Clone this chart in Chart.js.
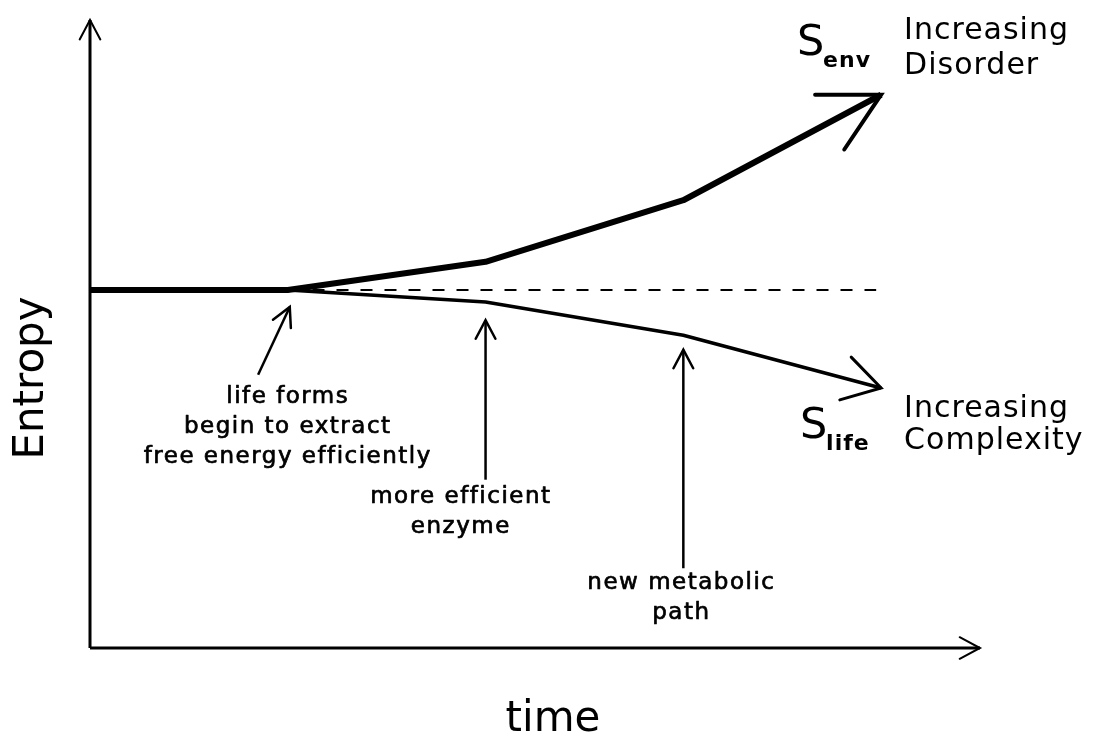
<!DOCTYPE html>
<html>
<head>
<meta charset="utf-8">
<title>Entropy vs time</title>
<script src="https://cdn.jsdelivr.net/npm/chart.js@4.4.1/dist/chart.umd.min.js"></script>
<style>
  html, body { margin: 0; padding: 0; background: #fff; }
  #wrap { width: 1100px; height: 750px; }
</style>
</head>
<body>
<div id="wrap"><canvas id="entropyChart"></canvas></div>
<script>
// time steps (x) and entropy values (y), both in arbitrary units
const timeSteps = [0, 2, 4, 6, 8];
const envEntropy = [5.70, 5.70, 6.15, 7.13, 8.81];
const lifeTimes = [2, 4, 6, 8];
const lifeEntropy = [5.70, 5.51, 4.98, 4.14];
const baseline = 5.70;
const baselineSpan = [2.25, 7.95];

// pointer arrows: [tailX, tailY, tipX, tipY]
const pointerArrows = [
  [1.70, 4.35, 2.02, 5.43],
  [4.00, 2.68, 4.00, 5.22],
  [6.00, 1.27, 6.00, 4.75]
];
const pointerLabels = [
  { x: 2.0, y: 4.0, lines: ['life forms', 'begin to extract', 'free energy efficiently'] },
  { x: 3.75, y: 2.41, lines: ['more efficient', 'enzyme'] },
  { x: 5.98, y: 1.03, lines: ['new metabolic', 'path'] }
];

const xRange = [0, 9];
const yRange = [0, 10];

const FONT = '"DejaVu Sans", sans-serif';

function pts(xs, ys) {
  return xs.map((x, i) => ({ x: x, y: ys[i] }));
}

const datasets = [
  // axes
  { data: [{ x: xRange[0], y: yRange[0] }, { x: xRange[1], y: yRange[0] }], borderWidth: 3, arrow: { len: 23, ang: 28, width: 2 } },
  { data: [{ x: xRange[0], y: yRange[0] }, { x: xRange[0], y: yRange[1] }], borderWidth: 3, arrow: { len: 22, ang: 28, width: 2 } },
  // dashed reference level
  { data: [{ x: baselineSpan[0], y: baseline }, { x: baselineSpan[1], y: baseline }], borderWidth: 2, borderDash: [12, 12] },
  // S_env and S_life
  { data: pts(timeSteps, envEntropy), borderWidth: 6, arrow: { len: 66, ang: 28, width: 4 } },
  { data: pts(lifeTimes, lifeEntropy), borderWidth: 3.5, arrow: { len: 43, ang: 31, width: 3 } }
];

pointerArrows.forEach(a => {
  datasets.push({
    data: [{ x: a[0], y: a[1] }, { x: a[2], y: a[3] }],
    borderWidth: 2.5,
    arrow: { len: 21, ang: 28, width: 2.5 }
  });
});

datasets.forEach(d => {
  d.borderColor = '#000';
  d.pointRadius = 0;
  d.showLine = true;
  d.fill = false;
  d.tension = 0;
  d.clip = false;
  d.borderJoinStyle = 'round';
  d.borderCapStyle = 'butt';
});

function heavyText(ctx, t, x, y, w) {
  ctx.fillText(t, x, y);
  ctx.lineWidth = w;
  ctx.strokeText(t, x, y);
}

// draws arrow heads, labels and axis titles
const sketchPlugin = {
  id: 'sketch',
  afterDatasetsDraw(chart) {
    const ctx = chart.ctx;
    const sx = chart.scales.x;
    const sy = chart.scales.y;

    ctx.save();
    ctx.strokeStyle = '#000';
    ctx.lineCap = 'round';
    chart.data.datasets.forEach(ds => {
      if (!ds.arrow) return;
      const n = ds.data.length;
      const p1 = ds.data[n - 2], p2 = ds.data[n - 1];
      const x1 = sx.getPixelForValue(p1.x), y1 = sy.getPixelForValue(p1.y);
      const x2 = sx.getPixelForValue(p2.x), y2 = sy.getPixelForValue(p2.y);
      const back = Math.atan2(y1 - y2, x1 - x2);
      const a = ds.arrow.ang * Math.PI / 180;
      ctx.lineWidth = ds.arrow.width;
      ctx.beginPath();
      ctx.moveTo(x2 + ds.arrow.len * Math.cos(back + a), y2 + ds.arrow.len * Math.sin(back + a));
      ctx.lineTo(x2, y2);
      ctx.lineTo(x2 + ds.arrow.len * Math.cos(back - a), y2 + ds.arrow.len * Math.sin(back - a));
      ctx.stroke();
    });

    ctx.fillStyle = '#000';
    ctx.textBaseline = 'middle';
    ctx.lineJoin = 'round';

    // pointer labels
    ctx.textAlign = 'center';
    ctx.font = '23px ' + FONT;
    ctx.letterSpacing = '1.5px';
    pointerLabels.forEach(l => {
      const px = sx.getPixelForValue(l.x);
      const py = sy.getPixelForValue(l.y);
      l.lines.forEach((t, i) => heavyText(ctx, t, px, py + i * 30, 0.7));
    });

    // curve labels
    const endEnv = sy.getPixelForValue(envEntropy[envEntropy.length - 1]);
    const endLife = sy.getPixelForValue(lifeEntropy[lifeEntropy.length - 1]);
    const endX = sx.getPixelForValue(timeSteps[timeSteps.length - 1]);

    ctx.textAlign = 'left';
    ctx.font = '30px ' + FONT;
    ctx.letterSpacing = '1px';
    ctx.fillText('Increasing', endX + 23, endEnv - 64);
    ctx.fillText('Disorder', endX + 23, endEnv - 29);
    ctx.fillText('Increasing', endX + 23, endLife + 21);
    ctx.fillText('Complexity', endX + 23, endLife + 53);

    ctx.letterSpacing = '0px';
    ctx.font = '43px ' + FONT;
    ctx.fillText('S', endX - 84, endEnv - 51);
    ctx.fillText('S', endX - 81, endLife + 39);
    ctx.font = 'bold 22px ' + FONT;
    ctx.letterSpacing = '1px';
    ctx.fillText('env', endX - 58, endEnv - 33);
    ctx.fillText('life', endX - 55, endLife + 56);

    // axis titles
    ctx.letterSpacing = '0px';
    ctx.font = '42px ' + FONT;
    ctx.textAlign = 'center';
    ctx.fillText('time', 553, 720);
    ctx.translate(32, 378);
    ctx.rotate(-Math.PI / 2);
    ctx.fillText('Entropy', 0, 0);
    ctx.restore();
  }
};

new Chart(document.getElementById('entropyChart'), {
  type: 'scatter',
  data: { datasets: datasets },
  options: {
    responsive: true,
    maintainAspectRatio: false,
    animation: false,
    events: [],
    layout: { padding: { left: 90, right: 120, top: 20, bottom: 102 } },
    plugins: {
      legend: { display: false },
      tooltip: { enabled: false }
    },
    scales: {
      x: { type: 'linear', display: false, min: xRange[0], max: xRange[1] },
      y: { type: 'linear', display: false, min: yRange[0], max: yRange[1] }
    }
  },
  plugins: [sketchPlugin]
});
</script>
</body>
</html>
